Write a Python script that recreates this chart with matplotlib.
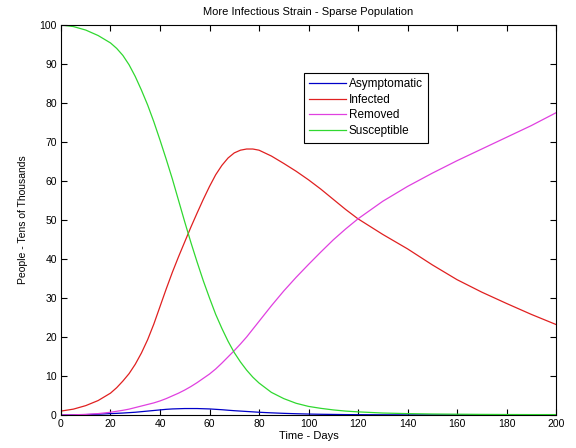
import numpy as np
import matplotlib
matplotlib.use("Agg")
import matplotlib.pyplot as plt

plt.rcParams['font.family'] = ['Liberation Sans', 'DejaVu Sans']

# model output, finer sampling through the outbreak
days = [0, 5, 10, 15, 20, 22.5, 25, 27.5, 30, 32.5, 35, 37.5, 40, 42.5, 45, 47.5, 50, 52.5,
        55, 57.5, 60, 62.5, 65, 67.5, 70, 72.5, 75, 77.5, 80, 85, 90, 95,
        100, 105, 110, 115, 120, 130, 140, 150, 160, 170, 180, 190, 200]

asymptomatic = [0.0, 0.05, 0.1, 0.2, 0.35, 0.42, 0.5, 0.6, 0.7, 0.85, 1.0, 1.15, 1.3, 1.45,
                1.55, 1.6, 1.65, 1.65, 1.65, 1.6, 1.55, 1.45, 1.35, 1.22, 1.1, 1.0, 0.9, 0.8,
                0.7, 0.55, 0.42, 0.32, 0.24, 0.18, 0.14, 0.1, 0.08, 0.05, 0.03, 0.02, 0.01,
                0.01, 0.0, 0.0, 0.0]
infected = [1.0, 1.5, 2.4, 3.7, 5.6, 7.0, 8.7, 10.6, 13.0, 15.9, 19.3, 23.3, 27.8, 32.3, 36.6,
            40.6, 44.4, 48.2, 51.8, 55.3, 58.6, 61.6, 64.0, 65.9, 67.2, 67.9, 68.2, 68.2, 67.9,
            66.4, 64.5, 62.5, 60.3, 57.9, 55.3, 52.7, 50.3, 46.3, 42.6, 38.5, 34.7, 31.5, 28.6,
            25.8, 23.2]
removed = [0.0, 0.05, 0.15, 0.35, 0.7, 0.95, 1.2, 1.5, 1.9, 2.3, 2.7, 3.1, 3.6, 4.2, 4.9, 5.6,
           6.4, 7.3, 8.3, 9.4, 10.5, 11.8, 13.3, 14.9, 16.5, 18.2, 20.0, 22.0, 24.0, 28.0, 31.8,
           35.3, 38.6, 41.8, 44.9, 47.7, 50.3, 54.8, 58.6, 62.0, 65.2, 68.2, 71.2, 74.2, 77.5]
susceptible = [100.0, 99.6, 98.7, 97.3, 95.4, 94.0, 92.2, 89.8, 86.8, 83.3, 79.5, 75.2, 70.5,
               65.6, 60.5, 55.0, 49.5, 44.2, 39.2, 34.4, 30.0, 25.8, 22.2, 18.9, 16.0, 13.6,
               11.5, 9.7, 8.2, 5.8, 4.2, 3.0, 2.2, 1.7, 1.3, 1.0, 0.8, 0.5, 0.35, 0.25, 0.2,
               0.15, 0.12, 0.1, 0.1]

fig = plt.figure(figsize=(5.76, 4.48), dpi=100)
ax = fig.add_axes([0.1059, 0.0737, 0.8594, 0.8705])

ax.plot(days, asymptomatic, color='#0000c8', lw=0.9, label='Asymptomatic')
ax.plot(days, infected, color='#e02020', lw=0.9, label='Infected')
ax.plot(days, removed, color='#e040e0', lw=0.9, label='Removed')
ax.plot(days, susceptible, color='#30d830', lw=0.9, label='Susceptible')

ax.set_xlim(0, 200)
ax.set_ylim(0, 100)
ax.set_xticks(np.arange(0, 201, 20))
ax.set_yticks(np.arange(0, 101, 10))
ax.tick_params(direction='in', length=4, width=0.8, top=True, right=True,
               labelsize=7.5, pad=3)
for s in ax.spines.values():
    s.set_linewidth(0.8)

ax.set_title('More Infectious Strain - Sparse Population', fontsize=8, pad=7)
ax.set_xlabel('Time - Days', fontsize=8, labelpad=1)
ax.set_ylabel('People - Tens of Thousands', fontsize=7.5, labelpad=8)

leg = ax.legend(loc='upper left', bbox_to_anchor=(0.491, 0.878), fontsize=8.5,
                fancybox=False, framealpha=1, edgecolor='black', borderaxespad=0,
                handlelength=3.1, handletextpad=0.25, labelspacing=0.32, borderpad=0.45)
leg.get_frame().set_linewidth(0.8)

fig.savefig('out.png', dpi=100)
